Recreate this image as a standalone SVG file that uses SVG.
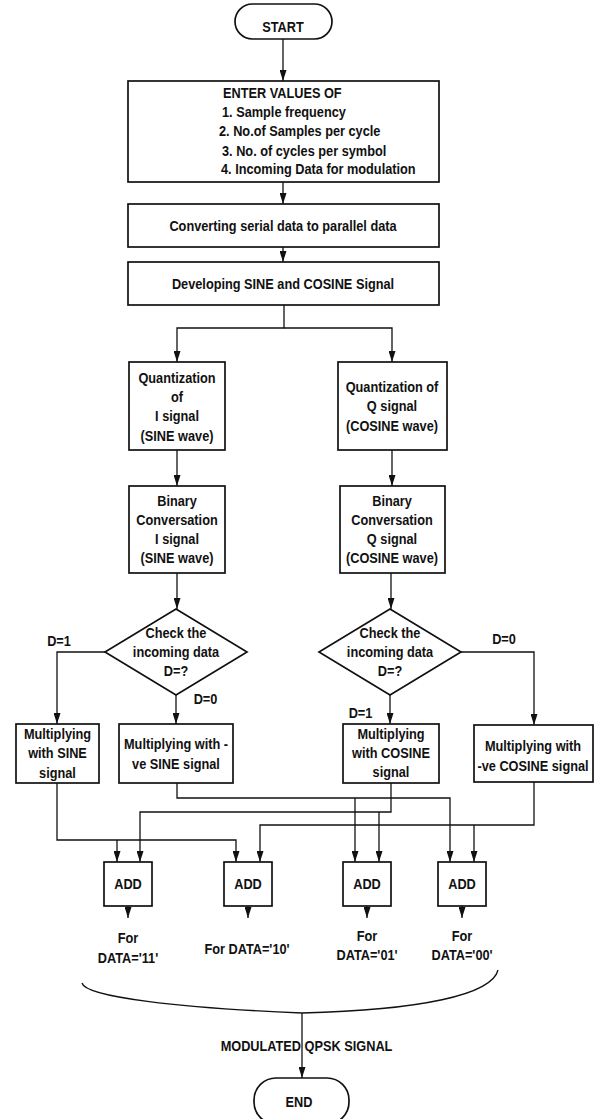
<svg xmlns="http://www.w3.org/2000/svg" width="594" height="1119" viewBox="0 0 594 1119">
<style>
  .box{fill:#fff;stroke:#111;stroke-width:1.7}
  .t{font-family:"Liberation Sans",Arial,sans-serif;font-weight:bold;font-size:15px;fill:#111;text-anchor:middle}
  .s{text-anchor:start}
  .c{fill:none;stroke:#111;stroke-width:1.3}
</style>
<defs>
  <marker id="ah" markerUnits="userSpaceOnUse" markerWidth="11" markerHeight="7" refX="11" refY="3.5" orient="auto">
    <path d="M0,0 L11,3.5 L0,7 z" fill="#111"/>
  </marker>
</defs>
<rect width="594" height="1119" fill="#fff"/>

<g id="connectors" class="c">
  <path d="M283,39 V81" marker-end="url(#ah)"/>
  <path d="M283,182 V204" marker-end="url(#ah)"/>
  <path d="M283,247 V262" marker-end="url(#ah)"/>
  <path d="M284,305 V328 H177 V362" marker-end="url(#ah)"/>
  <path d="M284,328 H392 V362" marker-end="url(#ah)"/>
  <path d="M177,450 V486" marker-end="url(#ah)"/>
  <path d="M392,450 V486" marker-end="url(#ah)"/>
  <path d="M177,573 V609" marker-end="url(#ah)"/>
  <path d="M391,573 V609" marker-end="url(#ah)"/>
  <path d="M105,652 H57 V724" marker-end="url(#ah)"/>
  <path d="M176,695 V724" marker-end="url(#ah)"/>
  <path d="M461,652 H534 V725" marker-end="url(#ah)"/>
  <path d="M390,695 V724" marker-end="url(#ah)"/>
  <path d="M57,783 V840 H236 V862" marker-end="url(#ah)"/>
  <path d="M117,840 V862" marker-end="url(#ah)"/>
  <path d="M177,783 V798 H450 V862" marker-end="url(#ah)"/>
  <path d="M355,798 V862" marker-end="url(#ah)"/>
  <path d="M391,783 V812 H140 V862" marker-end="url(#ah)"/>
  <path d="M379,812 V862" marker-end="url(#ah)"/>
  <path d="M534,782 V825 H260 V862" marker-end="url(#ah)"/>
  <path d="M474,825 V862" marker-end="url(#ah)"/>
  <path d="M128,906 V918" marker-end="url(#ah)"/>
  <path d="M248,906 V918" marker-end="url(#ah)"/>
  <path d="M367,906 V918" marker-end="url(#ah)"/>
  <path d="M462,906 V918" marker-end="url(#ah)"/>
  <path d="M82,983 C85,997 180,1008 302,1013 C420,1010 492,995 498,970"/>
  <path d="M302,1013 V1078" marker-end="url(#ah)"/>
</g>

<g id="start">
  <rect class="box" x="235" y="4" width="97" height="35" rx="17.5"/>
  <text class="t" transform="translate(283,31.5) scale(.85,1)">START</text>
</g>

<g id="enter">
  <rect class="box" x="128" y="81" width="311" height="101"/>
  <text class="t s" transform="translate(223,97.5) scale(.85,1)">ENTER VALUES OF</text>
  <text class="t s" transform="translate(222,116.5) scale(.85,1)">1. Sample frequency</text>
  <text class="t s" transform="translate(219,136) scale(.85,1)">2. No.of Samples per cycle</text>
  <text class="t s" transform="translate(222,155.5) scale(.85,1)">3. No. of cycles per symbol</text>
  <text class="t s" transform="translate(221,174) scale(.85,1)">4. Incoming Data for modulation</text>
</g>

<g id="convert">
  <rect class="box" x="128" y="204" width="311" height="43"/>
  <text class="t" transform="translate(283,230.5) scale(.85,1)">Converting serial data to parallel data</text>
</g>

<g id="develop">
  <rect class="box" x="128" y="262" width="311" height="43"/>
  <text class="t" transform="translate(283,288.5) scale(.85,1)">Developing SINE and COSINE Signal</text>
</g>

<g id="quant-i">
  <rect class="box" x="129" y="362" width="96" height="88"/>
  <text class="t" transform="translate(177,382.5) scale(.85,1)">Quantization</text>
  <text class="t" transform="translate(177,401.5) scale(.85,1)">of</text>
  <text class="t" transform="translate(177,421) scale(.85,1)">I signal</text>
  <text class="t" transform="translate(177,440.5) scale(.85,1)">(SINE wave)</text>
</g>

<g id="quant-q">
  <rect class="box" x="338" y="362" width="109" height="88"/>
  <text class="t" transform="translate(392,392) scale(.85,1)">Quantization of</text>
  <text class="t" transform="translate(392,411) scale(.85,1)">Q signal</text>
  <text class="t" transform="translate(392,430.5) scale(.85,1)">(COSINE wave)</text>
</g>

<g id="binary-i">
  <rect class="box" x="129" y="486" width="96" height="87"/>
  <text class="t" transform="translate(177,505.5) scale(.85,1)">Binary</text>
  <text class="t" transform="translate(177,524.5) scale(.85,1)">Conversation</text>
  <text class="t" transform="translate(177,543.5) scale(.85,1)">I signal</text>
  <text class="t" transform="translate(177,562.5) scale(.85,1)">(SINE wave)</text>
</g>

<g id="binary-q">
  <rect class="box" x="340" y="486" width="105" height="87"/>
  <text class="t" transform="translate(392,505.5) scale(.85,1)">Binary</text>
  <text class="t" transform="translate(392,524.5) scale(.85,1)">Conversation</text>
  <text class="t" transform="translate(392,543.5) scale(.85,1)">Q signal</text>
  <text class="t" transform="translate(392,562.5) scale(.85,1)">(COSINE wave)</text>
</g>

<g id="check-i">
  <polygon class="box" points="176,609 247,652 176,695 105,652"/>
  <text class="t" transform="translate(176,638) scale(.85,1)">Check the</text>
  <text class="t" transform="translate(176,657) scale(.85,1)">incoming data</text>
  <text class="t" transform="translate(176,676) scale(.85,1)">D=?</text>
</g>

<g id="check-q">
  <polygon class="box" points="390,609 461,652 390,695 319,652"/>
  <text class="t" transform="translate(390,638) scale(.85,1)">Check the</text>
  <text class="t" transform="translate(390,657) scale(.85,1)">incoming data</text>
  <text class="t" transform="translate(390,676) scale(.85,1)">D=?</text>
</g>

<g id="labels">
  <text class="t" transform="translate(59,645.5) scale(.85,1)">D=1</text>
  <text class="t" transform="translate(205.5,704) scale(.85,1)">D=0</text>
  <text class="t" transform="translate(360.5,718) scale(.85,1)">D=1</text>
  <text class="t" transform="translate(504,644) scale(.85,1)">D=0</text>
</g>

<g id="mul-sine">
  <rect class="box" x="16" y="724" width="83" height="59"/>
  <text class="t" transform="translate(57.5,738.5) scale(.85,1)">Multiplying</text>
  <text class="t" transform="translate(57.5,758) scale(.85,1)">with SINE</text>
  <text class="t" transform="translate(57.5,777.5) scale(.85,1)">signal</text>
</g>

<g id="mul-neg-sine">
  <rect class="box" x="119" y="724" width="114" height="59"/>
  <text class="t" transform="translate(176,749) scale(.85,1)">Multiplying with -</text>
  <text class="t" transform="translate(176,768.5) scale(.85,1)">ve SINE signal</text>
</g>

<g id="mul-cosine">
  <rect class="box" x="343" y="724" width="96" height="59"/>
  <text class="t" transform="translate(391,739) scale(.85,1)">Multiplying</text>
  <text class="t" transform="translate(391,758) scale(.85,1)">with COSINE</text>
  <text class="t" transform="translate(391,777) scale(.85,1)">signal</text>
</g>

<g id="mul-neg-cosine">
  <rect class="box" x="474" y="725" width="119" height="57"/>
  <text class="t" transform="translate(533,751) scale(.85,1)">Multiplying with</text>
  <text class="t" transform="translate(533,771) scale(.85,1)">-ve COSINE signal</text>
</g>

<g id="add-11">
  <rect class="box" x="104" y="862" width="48" height="44"/>
  <text class="t" transform="translate(128,888.5) scale(.85,1)">ADD</text>
  <text class="t" transform="translate(128,942.5) scale(.85,1)">For</text>
  <text class="t" transform="translate(128,962.5) scale(.85,1)">DATA='11'</text>
</g>

<g id="add-10">
  <rect class="box" x="224" y="862" width="48" height="44"/>
  <text class="t" transform="translate(248,888.5) scale(.85,1)">ADD</text>
  <text class="t" transform="translate(247,953.5) scale(.85,1)">For DATA='10'</text>
</g>

<g id="add-01">
  <rect class="box" x="343" y="862" width="48" height="44"/>
  <text class="t" transform="translate(367,888.5) scale(.85,1)">ADD</text>
  <text class="t" transform="translate(367,940.5) scale(.85,1)">For</text>
  <text class="t" transform="translate(367,959.5) scale(.85,1)">DATA='01'</text>
</g>

<g id="add-00">
  <rect class="box" x="438" y="862" width="48" height="44"/>
  <text class="t" transform="translate(462,888.5) scale(.85,1)">ADD</text>
  <text class="t" transform="translate(462,940.5) scale(.85,1)">For</text>
  <text class="t" transform="translate(462,959.5) scale(.85,1)">DATA='00'</text>
</g>

<g id="output-label">
  <text class="t" transform="translate(306.5,1051) scale(.85,1)">MODULATED QPSK SIGNAL</text>
</g>

<g id="end">
  <rect class="box" x="254" y="1078" width="95" height="46" rx="22"/>
  <text class="t" transform="translate(299,1106.5) scale(.85,1)">END</text>
</g>
</svg>
